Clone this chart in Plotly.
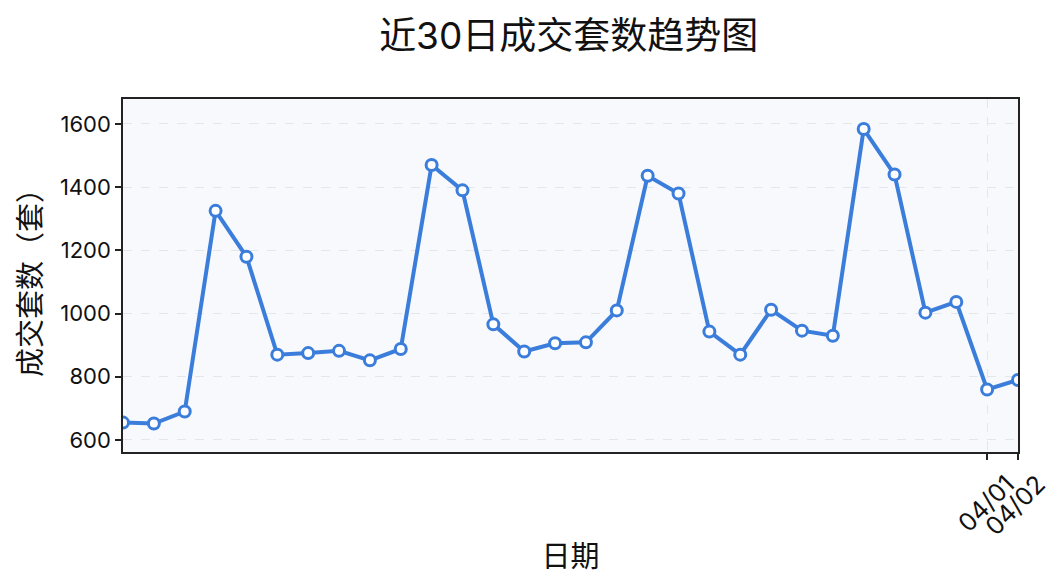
import plotly.graph_objects as go
import pandas as pd

dates = pd.date_range("2025-03-04", "2025-04-02", freq="D")
values = [655, 652, 690, 1325, 1180, 870, 875, 882, 852, 888,
          1470, 1390, 966, 880, 906, 909, 1010, 1436, 1380, 943,
          870, 1012, 946, 930, 1584, 1440, 1003, 1037, 760, 790]
tick_vals = ["2025-04-01", "2025-04-02"]
tick_text = ["04/01", "04/02"]

title = "近30日成交套数趋势图"
x_title = "日期"
y_title = "成交套数（套）"

font_family = "Inter, Noto Sans CJK SC, sans-serif"
line_color = "#3b7ddb"

fig = go.Figure()
fig.add_trace(go.Scatter(
    x=dates, y=values, mode="lines+markers",
    line=dict(color=line_color, width=4),
    marker=dict(size=11, color="white", line=dict(color=line_color, width=3)),
    showlegend=False,
))

fig.update_layout(
    width=1056, height=570,
    margin=dict(l=115, r=46, t=91, b=126, autoexpand=False),
    paper_bgcolor="white",
    plot_bgcolor="#f7f9fc",
    font=dict(family=font_family, color="#111111"),
    title=dict(text=title, x=0.531, xanchor="center", y=0.95, yanchor="middle",
               font=dict(size=37, color="#111111")),
)
fig.update_xaxes(
    type="date",
    range=[dates[0], dates[-1]],
    tickvals=tick_vals, ticktext=tick_text,
    tickangle=-45, tickfont=dict(size=25),
    ticks="outside", ticklen=6, tickwidth=1.5, tickcolor="#222",
    ticklabelshift=20, ticklabelstandoff=0,
    ticklabeloverflow="allow",
    automargin=False,
    showline=True, linecolor="#222", linewidth=1.5, mirror=True,
    showgrid=True, gridcolor="#e3e6ea", griddash="dash", gridwidth=1,
    zeroline=False,
    title=dict(text=x_title, font=dict(size=29), standoff=6),
)
fig.update_yaxes(
    range=[562, 1679],
    tickvals=[600, 800, 1000, 1200, 1400, 1600],
    tickfont=dict(size=22),
    ticks="outside", ticklen=6, tickwidth=1.5, tickcolor="#222",
    automargin=False,
    showline=True, linecolor="#222", linewidth=1.5, mirror=True,
    showgrid=True, gridcolor="#e3e6ea", griddash="dash", gridwidth=1,
    zeroline=False,
    title=dict(text=y_title, font=dict(size=29), standoff=10),
)

fig.write_html("out.html")
